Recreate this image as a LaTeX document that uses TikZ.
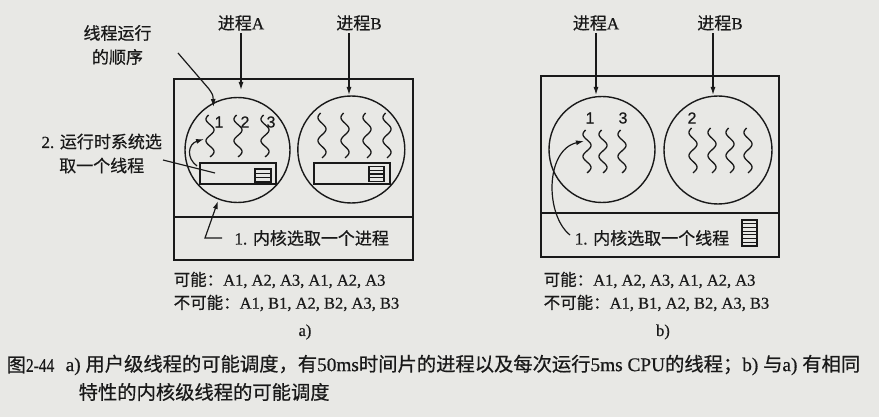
\documentclass[tikz,border=0pt]{standalone}
\usepackage{fontspec}
\setmainfont{Liberation Serif}[FakeBold=0.6]
\newfontfamily\cjkfont{Noto Sans CJK SC}[FakeBold=0.6]
\newfontfamily\digfont{Liberation Sans}[FakeBold=0.5]
\newcommand\zh[1]{{\cjkfont #1}}
\usetikzlibrary{arrows.meta}
\definecolor{bgcol}{RGB}{232,232,229}
\definecolor{ink}{RGB}{25,25,25}
\newcommand\wthread[3]{\draw[thread] plot[variable=\t,domain=0:1,samples=60,smooth] ({#1-4*sin(700*\t+20)},{#2+(#3-#2)*\t});}
\begin{document}
\begin{tikzpicture}[x=1pt,y=-1pt,line width=1.4pt,draw=ink,text=ink,
  arr/.style={-{Latex[length=8pt,width=5pt]},line width=1.2pt},
  thread/.style={line width=1.3pt},
  thinl/.style={line width=1.1pt},
  lbl/.style={font=\fontsize{17}{24}\selectfont,inner sep=2pt,align=center},
  num/.style={font=\digfont\fontsize{16}{16}\selectfont,inner sep=0pt},
  btxt/.style={font=\fontsize{16.5}{20}\selectfont,inner sep=0pt,anchor=west},
  ctxt/.style={font=\fontsize{19.3}{24}\selectfont,inner sep=0pt,anchor=west},
  proc/.style={circle,draw,inner sep=0pt,line width=1.4pt},
  rtbox/.style={draw,line width=1.4pt},
  icon/.style={draw,line width=1.2pt}]
\fill[bgcol] (0,0) rectangle (879,417);
\useasboundingbox (0,0) rectangle (879,417);

% ===== left panel a) =====
\draw (174,79) rectangle (413,260);
\draw (174,217) -- (413,217);
\node[proc,minimum size=105pt] (LcA) at (237.5,150) {};
\node[proc,minimum size=107pt] (LcB) at (351.3,149.5) {};
\foreach \x in {210,238,265} {\wthread{\x}{115}{157}}
\foreach \x in {322,345,367,387} {\wthread{\x}{113}{158}}
\node[num] (Ln1) at (219,122) {1};
\node[num] (Ln2) at (245,122) {2};
\node[num] (Ln3) at (271,122) {3};
\node[rtbox,minimum width=76pt,minimum height=21pt] (LrA) at (238,173.5) {};
\node[rtbox,minimum width=76pt,minimum height=21pt] (LrB) at (352,173.5) {};
\draw[icon] (255,169) rectangle (271,182);
\draw[thinl] (255,173.3) -- (271,173.3) (255,177.7) -- (271,177.7);
\draw[icon] (369,166.5) rectangle (384,181.5);
\draw[thinl] (369,170.2) -- (384,170.2) (369,174) -- (384,174) (369,177.8) -- (384,177.8);

\node[lbl] (LpA) at (241,23) {\zh{进程}A};
\node[lbl] (LpB) at (359,23) {\zh{进程}B};
\coordinate (LaA) at (241,90);
\coordinate (LaB) at (349,95);
\draw[arr] (LpA.south) -- (LaA);
\draw[arr] (LpB.south -| LaB) -- (LaB);

\node[lbl] (Lord) at (117.5,45) {\zh{线程运行}\\\zh{的顺序}};
\coordinate (LordS) at (178,53);
\coordinate (LordE) at (213.5,107);
\draw[arr] (LordS) -- (209,89) .. controls (213,95) .. (LordE);

\node[lbl] (Lrt) at (101.7,153.5) {2. \zh{运行时系统选}\\\zh{取一个线程}};
\coordinate (LrtS) at (163,160);
\coordinate (LrtE) at (215,173);
\draw[thinl] (LrtS) -- (LrtE);
\coordinate (LcurS) at (197,166);
\coordinate (LcurE) at (204,139);
\draw[arr] (LcurS) .. controls (186,158) and (188,144) .. (LcurE);

\node[lbl] (Lk) at (311.7,238) {1. \zh{内核选取一个进程}};
\coordinate (LkS) at (222,238);
\coordinate (LkE) at (218,201);
\draw[arr] (LkS) -- (205,238) -- (LkE);

\node[btxt] (Lposs) at (173,280) {\zh{可能：}A1, A2, A3, A1, A2, A3};
\node[btxt] (Limp) at (173,303) {\zh{不可能：}A1, B1, A2, B2, A3, B3};
\node[btxt,anchor=center] (La) at (305,332) {a)};

% ===== right panel b) =====
\draw (541,76) rectangle (779,257);
\draw (541,213) -- (779,213);
\node[proc,minimum size=106pt] (RcA) at (602,149.5) {};
\node[proc,minimum size=108pt] (RcB) at (718,150) {};
\foreach \x in {587,603,622} {\wthread{\x}{130}{173}}
\foreach \x in {693,712,730,748} {\wthread{\x}{128}{173}}
\node[num] (Rn1) at (590,118) {1};
\node[num] (Rn3) at (623,118) {3};
\node[num] (Rn2) at (692,118) {2};
\draw[icon] (742,220) rectangle (757,246);
\foreach \k in {1,...,6} {\draw[thinl] (742,{220+26*\k/7}) -- (757,{220+26*\k/7});}

\node[lbl] (RpA) at (596,23) {\zh{进程}A};
\node[lbl] (RpB) at (720,23) {\zh{进程}B};
\coordinate (RaA) at (596,95);
\coordinate (RaB) at (713,95);
\draw[arr] (RpA.south) -- (RaA);
\draw[arr] (RpB.south -| RaB) -- (RaB);

\node[lbl] (Rk) at (652,238) {1. \zh{内核选取一个线程}};
\coordinate (RkS) at (570,235);
\coordinate (RkE) at (584,141);
\draw[arr] (RkS) .. controls (545,215) and (545,150) .. (RkE);

\node[btxt] (Rposs) at (543,280) {\zh{可能：}A1, A2, A3, A1, A2, A3};
\node[btxt] (Rimp) at (543,303) {\zh{不可能：}A1, B1, A2, B2, A3, B3};
\node[btxt,anchor=center] (Rb) at (663,332) {b)};

% ===== caption =====
\node[ctxt] (cap0) at (6,365) {\zh{图}\scalebox{0.8}[1]{2-44}};
\node[ctxt] (cap1) at (65,365) {a) \zh{用户级线程的可能调度，有}50ms\zh{时间片的进程以及每次运行}5ms CPU\zh{的线程；}b) \zh{与}a) \zh{有相同}};
\node[ctxt] (cap2) at (78,392) {\zh{特性的内核级线程的可能调度}};
\end{tikzpicture}
\end{document}
